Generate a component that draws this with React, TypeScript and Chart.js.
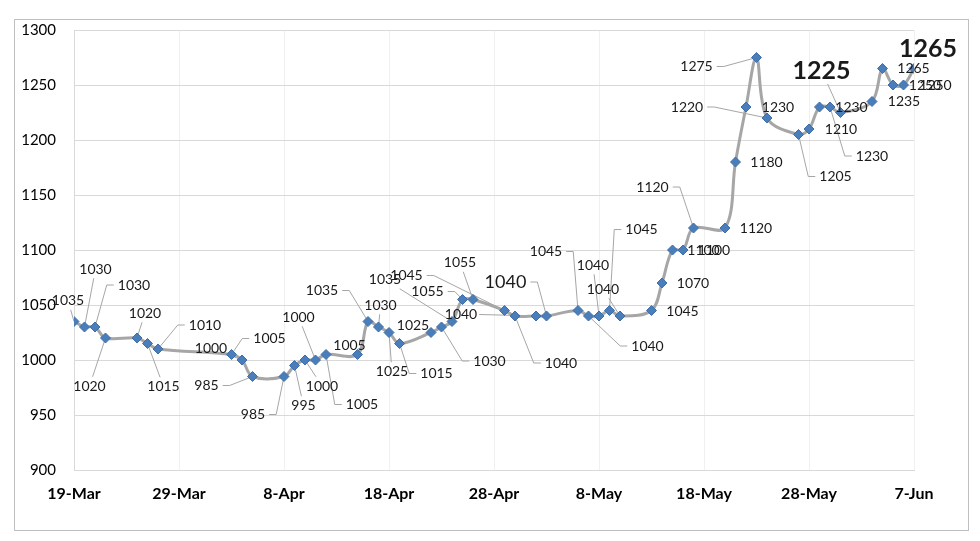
import { useEffect, useRef } from 'react';
import { Chart, registerables } from 'chart.js';

Chart.register(...registerables);

// ---- data ----
const dates = [
  '2020-03-19', '2020-03-20', '2020-03-21', '2020-03-22', '2020-03-25', '2020-03-26', '2020-03-27',
  '2020-04-03', '2020-04-04', '2020-04-05', '2020-04-08', '2020-04-09', '2020-04-10', '2020-04-11',
  '2020-04-12', '2020-04-15', '2020-04-16', '2020-04-17', '2020-04-18', '2020-04-19', '2020-04-22',
  '2020-04-23', '2020-04-24', '2020-04-25', '2020-04-26', '2020-04-29', '2020-04-30', '2020-05-02',
  '2020-05-03', '2020-05-06', '2020-05-07', '2020-05-08', '2020-05-09', '2020-05-10', '2020-05-13',
  '2020-05-14', '2020-05-15', '2020-05-16', '2020-05-17', '2020-05-20', '2020-05-21', '2020-05-22',
  '2020-05-23', '2020-05-24', '2020-05-27', '2020-05-28', '2020-05-29', '2020-05-30', '2020-05-31',
  '2020-06-03', '2020-06-04', '2020-06-05', '2020-06-06', '2020-06-07',
];

const values = [
  1035, 1030, 1030, 1020, 1020, 1015, 1010,
  1005, 1000, 985, 985, 995, 1000, 1000,
  1005, 1005, 1035, 1030, 1025, 1015, 1025,
  1030, 1035, 1055, 1055, 1045, 1040, 1040,
  1040, 1045, 1040, 1040, 1045, 1040, 1045,
  1070, 1100, 1100, 1120, 1120, 1180, 1230,
  1275, 1220, 1205, 1210, 1230, 1230, 1225,
  1235, 1265, 1250, 1250, 1265,
];

const xTickLabels = ['19-Mar', '29-Mar', '8-Apr', '18-Apr', '28-Apr', '8-May', '18-May', '28-May', '7-Jun'];
const yMin = 900;
const yMax = 1300;
const yStep = 50;

// label placement: [dx, dy, leader (0 none, 1 straight, 2 elbow), fontSize, bold]
const labelLayout: [number, number, number, number, boolean][] = [
  [-6, -21, 1, 14, false],
  [11, -58, 1, 14, false],
  [39, -42, 2, 14, false],
  [-16, 48, 1, 14, false],
  [8, -25, 1, 14, false],
  [16, 43, 1, 14, false],
  [47, -24, 2, 14, false],
  [38, -16, 2, 14, false],
  [-31, -12, 1, 14, false],
  [-46, 9, 2, 14, false],
  [-31, 38, 2, 14, false],
  [9, 40, 1, 14, false],
  [17, 26, 1, 14, false],
  [-17, -43, 1, 14, false],
  [36, 50, 2, 14, false],
  [-8, -9, 0, 14, false],
  [-46, -31, 2, 14, false],
  [2, -22, 1, 14, false],
  [3, 39, 1, 14, false],
  [37, 30, 2, 14, false],
  [-18, -7, 0, 14, false],
  [48, 34, 2, 14, false],
  [-67, -42, 1, 14, false],
  [-35, -8, 2, 14, false],
  [-13, -37, 1, 14, false],
  [-98, -35, 2, 14, false],
  [46, 47, 2, 14, false],
  [-75, -2, 1, 14, false],
  [-41, -34, 2, 18, false],
  [-32, -59, 2, 14, false],
  [59, 30, 2, 14, false],
  [-6, -51, 1, 14, false],
  [32, -81, 2, 14, false],
  [-17, -27, 1, 14, false],
  [31, 1, 0, 14, false],
  [31, 0, 0, 14, false],
  [31, 0, 0, 14, false],
  [31, 0, 0, 14, false],
  [-41, -41, 2, 14, false],
  [31, 0, 0, 14, false],
  [31, 0, 0, 14, false],
  [32, 0, 0, 14, false],
  [-60, 9, 2, 14, false],
  [-80, -11, 2, 14, false],
  [37, 42, 2, 14, false],
  [32, 0, 0, 14, false],
  [32, 0, 0, 14, false],
  [42, 49, 2, 14, false],
  [-19, -42, 1, 25, true],
  [32, 0, 0, 14, false],
  [31, 0, 0, 14, false],
  [32, 0, 0, 14, false],
  [32, 0, 0, 14, false],
  [14, -20, 0, 25, true],
];

const FONT = 'Lato, "Open Sans", sans-serif';

const dayOf = (s: string) => {
  const [y, m, d] = s.split('-').map(Number);
  return Date.UTC(y, m - 1, d) / 86400000;
};

const leaderPlugin = {
  id: 'leaders',
  beforeDatasetsDraw(chart: any) {
    const ctx = chart.ctx as CanvasRenderingContext2D;
    const meta = chart.getDatasetMeta(0);
    ctx.save();
    ctx.strokeStyle = '#a6a6a6';
    ctx.lineWidth = 1;
    meta.data.forEach((el: any, i: number) => {
      const [dx, dy, kind, size, bold] = labelLayout[i];
      if (!kind) return;
      ctx.font = `${bold ? 'bold ' : ''}${size}px ${FONT}`;
      const w = ctx.measureText(String(values[i])).width;
      const h = size * 0.75;
      const lx = el.x + dx;
      const ly = el.y + dy;
      ctx.beginPath();
      if (kind === 2) {
        const side = dx < 0 ? 1 : -1;
        const sx = lx + side * (w / 2 + 4);
        const ex = sx + side * 7;
        ctx.moveTo(sx, ly);
        ctx.lineTo(ex, ly);
        ctx.lineTo(el.x, el.y);
      } else {
        const vx = el.x - lx;
        const vy = el.y - ly;
        const tx = vx === 0 ? Infinity : (w / 2 + 2) / Math.abs(vx);
        const ty = vy === 0 ? Infinity : (h / 2 + 4) / Math.abs(vy);
        const t = Math.min(tx, ty);
        ctx.moveTo(lx + vx * t, ly + vy * t);
        ctx.lineTo(el.x, el.y);
      }
      ctx.stroke();
    });
    ctx.restore();
  },
  afterDatasetsDraw(chart: any) {
    const ctx = chart.ctx as CanvasRenderingContext2D;
    const meta = chart.getDatasetMeta(0);
    ctx.save();
    ctx.fillStyle = '#1a1a1a';
    ctx.textAlign = 'center';
    ctx.textBaseline = 'middle';
    meta.data.forEach((el: any, i: number) => {
      const [dx, dy, , size, bold] = labelLayout[i];
      ctx.font = `${bold ? 'bold ' : ''}${size}px ${FONT}`;
      ctx.fillText(String(values[i]), el.x + dx, el.y + dy);
    });
    ctx.restore();
  },
};

const framePlugin = {
  id: 'frame',
  beforeDraw(chart: any) {
    const ctx = chart.ctx as CanvasRenderingContext2D;
    ctx.save();
    ctx.fillStyle = '#ffffff';
    ctx.fillRect(0, 0, chart.width, chart.height);
    ctx.strokeStyle = '#bfbfbf';
    ctx.lineWidth = 1;
    ctx.strokeRect(14.5, 19.5, 954, 511);
    ctx.restore();
  },
};

export default function App() {
  const ref = useRef<HTMLCanvasElement | null>(null);

  useEffect(() => {
    if (!ref.current) return;
    const d0 = dayOf(dates[0]);
    const points = dates.map((d, i) => ({ x: dayOf(d) - d0, y: values[i] }));
    const chart = new Chart(ref.current, {
      type: 'line',
      data: {
        datasets: [
          {
            data: points,
            borderColor: '#a6a6a6',
            borderWidth: 3,
            tension: 0.35,
            pointStyle: 'rectRot',
            pointRadius: 5,
            pointBackgroundColor: '#4a7ebb',
            pointBorderColor: '#3f6fa8',
            pointBorderWidth: 1,
          },
        ],
      },
      options: {
        animation: false,
        responsive: false,
        maintainAspectRatio: false,
        layout: { padding: { left: 14, right: 66, top: 30, bottom: 11 } },
        plugins: { legend: { display: false }, tooltip: { enabled: false } },
        scales: {
          x: {
            type: 'linear',
            min: 0,
            max: (xTickLabels.length - 1) * 10,
            afterFit: (s: any) => { s.height = 60; },
            ticks: {
              stepSize: 10,
              padding: 14,
              color: '#000',
              font: { family: FONT, size: 16, weight: 'bold' },
              callback: (v: any) => xTickLabels[Math.round(Number(v) / 10)] ?? '',
            },
            grid: { color: '#f0f0f0', drawTicks: false },
            border: { color: '#d9d9d9' },
          },
          y: {
            min: yMin,
            max: yMax,
            afterFit: (s: any) => { s.width = 60; },
            ticks: {
              stepSize: yStep,
              padding: 18,
              color: '#000',
              font: { family: FONT, size: 15 },
              callback: (v: any) => String(v),
            },
            grid: { color: '#d9d9d9', drawTicks: false },
            border: { color: '#d9d9d9' },
          },
        },
      },
      plugins: [framePlugin, leaderPlugin],
    } as any);
    return () => chart.destroy();
  }, []);

  return (
    <div style={{ position: 'fixed', left: 0, top: 0, width: 980, height: 541 }}>
      <canvas ref={ref} width={980} height={541} style={{ display: 'block' }} />
    </div>
  );
}
